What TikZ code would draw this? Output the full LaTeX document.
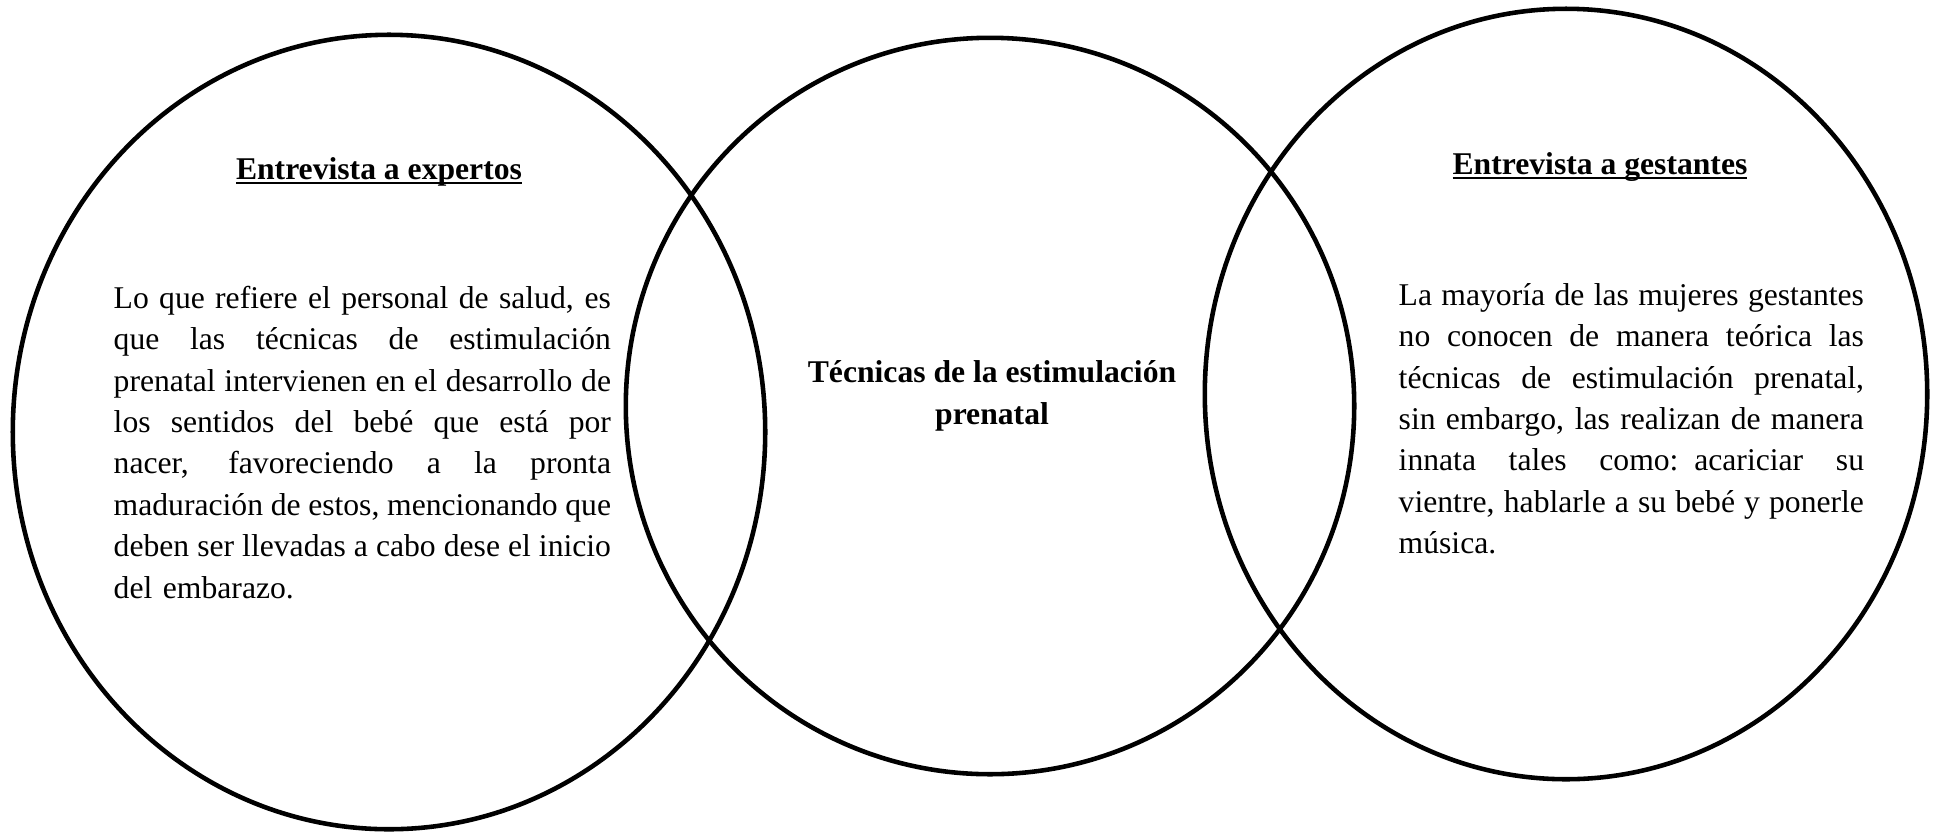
\documentclass[tikz,border=0pt]{standalone}
\usepackage{fontspec}
\setmainfont{Liberation Serif}
\usetikzlibrary{shapes.geometric}
\newcommand{\jl}[2][4.97cm]{\leavevmode\hbox to #1{\spaceskip=.25em plus 1em minus .08em\relax #2}\\}
\newcommand{\subr}[1]{{\setbox0\hbox{#1}\rlap{\rule[-1.4pt]{\wd0}{0.6pt}}\box0}}

\begin{document}
\begin{tikzpicture}[x=0.01cm,y=-0.01cm,
    zona/.style ={ellipse, draw, line width=1.3pt, inner sep=0pt},
    texto/.style ={inner sep=0pt, text width=#1, align=left, font=\fontsize{9}{11.8}\selectfont},
    titulo/.style ={inner sep=0pt, font=\fontsize{9}{11.8}\selectfont\bfseries}]
   \useasboundingbox (0,0) rectangle (1940,833);
   \node[zona, minimum width=7.52cm, minimum height=7.94cm] (expertos) at (389,432) {};
   \node[zona, minimum width=7.28cm, minimum height=7.36cm] (tecnicas) at (990,406) {};
   \node[zona, minimum width=7.22cm, minimum height=7.70cm] (gestantes) at (1566,394) {};
   \node[titulo, anchor=base] (tit1) at (379,179) {\subr{Entrevista a expertos}};
   \node[texto=4.97cm, anchor=base west] (txt1) at (113,308) {%
     \jl{Lo que refiere el personal de salud, es}
     \jl{que las técnicas de estimulación}
     \jl{prenatal intervienen en el desarrollo de}
     \jl{los sentidos del bebé que está por}
     \jl{nacer, favoreciendo a la pronta}
     \jl{maduración de estos, mencionando que}
     \jl{deben ser llevadas a cabo dese el inicio}
     del embarazo.};
   % la segunda linea da la base del nodo
   \node[titulo, align=center, anchor=base] (centro) at (992,424) {Técnicas de la estimulación\\prenatal};
   \node[titulo, anchor=base] (tit2) at (1600,174) {\subr{Entrevista a gestantes}};
   \node[texto=4.65cm, anchor=base west] (txt2) at (1398,305) {%
     \jl[4.65cm]{La mayoría de las mujeres gestantes}
     \jl[4.65cm]{no conocen de manera teórica las}
     \jl[4.65cm]{técnicas de estimulación prenatal,}
     \jl[4.65cm]{sin embargo, las realizan de manera}
     \jl[4.65cm]{innata tales como: acariciar su}
     \jl[4.65cm]{vientre, hablarle a su bebé y ponerle}
     música.};
 \end{tikzpicture}
\end{document}
